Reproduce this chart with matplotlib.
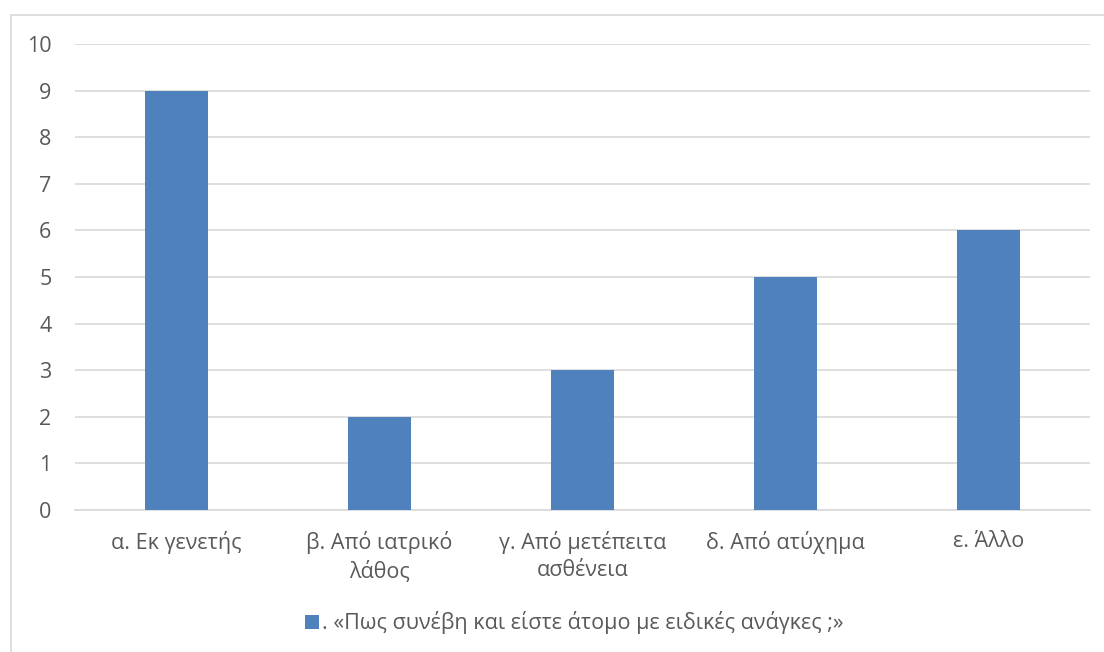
import matplotlib.pyplot as plt
from matplotlib.patches import Rectangle

# data
categories = ["α. Εκ γενετής", "β. Από ιατρικό\nλάθος", "γ. Από μετέπειτα\nασθένεια",
              "δ. Από ατύχημα", "ε. Άλλο"]
values = [9, 2, 3, 5, 6]
series_name = ". «Πως συνέβη και είστε άτομο με ειδικές ανάγκες ;»"

BAR_COLOR = "#4F81BD"
TEXT_COLOR = "#595959"
GRID_COLOR = "#D9D9D9"
FS = 15.5

plt.rcParams['font.family'] = ['Open Sans', 'DejaVu Sans']

fig = plt.figure(figsize=(11.04, 6.52), dpi=100)
ax = fig.add_axes([75/1104, 1 - 510/652, (1090 - 75)/1104, (510 - 44)/652])

# chart border (cut off at right and bottom like the reference)
fig.patches.append(Rectangle((11/1104, -0.1), 1.2, 1 - 15/652 + 0.1,
                             transform=fig.transFigure, fill=False,
                             edgecolor=GRID_COLOR, lw=1.2))

x = range(len(categories))
ax.bar(x, values, width=0.31, color=BAR_COLOR, label=series_name, zorder=3)

ax.set_xlim(-0.5, len(categories) - 0.5)
ax.set_ylim(0, 10)
ax.set_yticks(range(0, 11))
ax.set_xticks(list(x))
ax.set_xticklabels(categories, linespacing=1.4)

ax.grid(axis='y', color=GRID_COLOR, lw=1.2, zorder=0)
for s in ['top', 'right', 'left']:
    ax.spines[s].set_visible(False)
ax.spines['bottom'].set_color(GRID_COLOR)
ax.spines['bottom'].set_linewidth(1.2)
ax.tick_params(axis='both', length=0, labelsize=FS, colors=TEXT_COLOR)
ax.tick_params(axis='x', pad=15)
ax.tick_params(axis='y', pad=17)

fig.legend(loc='center', bbox_to_anchor=(574/1104, 1 - 623/652), frameon=False,
           fontsize=FS, labelcolor=TEXT_COLOR, handlelength=0.65, handleheight=0.65,
           handletextpad=0.15)

fig.savefig("out.png", dpi=100)
